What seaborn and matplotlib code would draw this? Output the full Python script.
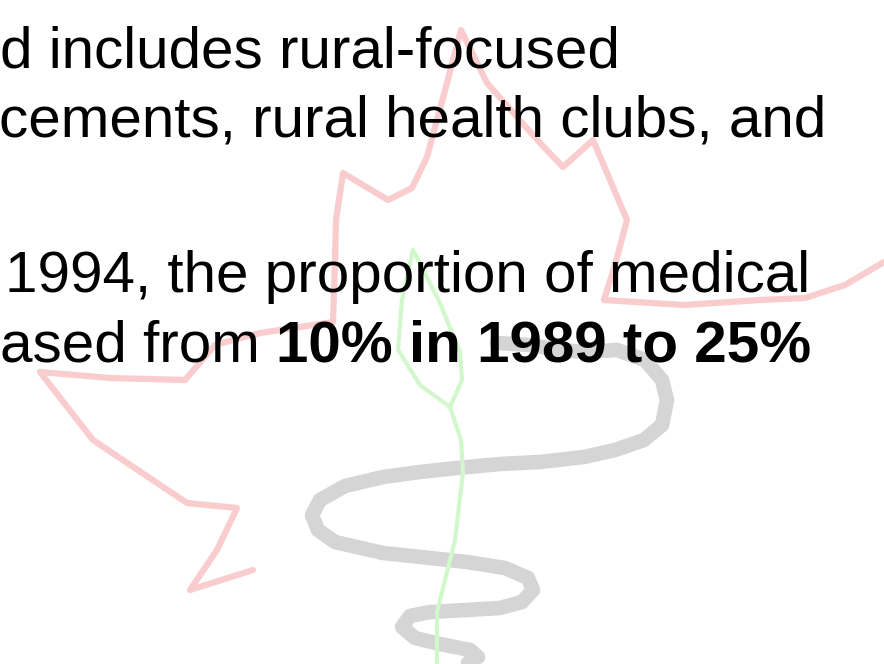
import matplotlib.pyplot as plt
import pandas as pd
import seaborn as sns

sns.set_theme(style="white")
plt.rcParams["font.family"] = ["Liberation Sans", "DejaVu Sans"]

# --- slide text (cropped slide, lines run off the left edge) ------------------
line_texts = [
    "d includes rural-focused",
    "cements, rural health clubs, and",
    "1994, the proportion of medical",
    "ased from ",
]
bold_text = "10% in 1989 to 25%"
line_x = [0, -1, 5, 0]
line_baseline = [67, 137, 292, 362]

# --- watermark logo, traced in pixel coordinates ------------------------------
leaf_x = [253, 190, 217, 237, 187, 93, 40, 110, 185, 215, 260, 333, 335, 336, 343,
          388, 412, 427, 447, 461, 487, 517, 540, 563, 593, 610, 627, 615, 604, 684,
          760, 805, 845, 884]
leaf_y = [570, 590, 550, 508, 503, 440, 372, 378, 380, 345, 333, 322, 260, 220, 173,
          200, 188, 157, 83, 30, 83, 117, 143, 167, 140, 180, 220, 265, 300, 305,
          300, 298, 285, 262]

bud_left_x = [413, 402, 398, 420, 450]
bud_left_y = [250, 300, 350, 385, 407]
bud_right_x = [413, 440, 460, 462, 450]
bud_right_y = [250, 303, 352, 380, 407]
stem_x = [450, 461, 463, 455, 437, 437]
stem_y = [407, 440, 472, 540, 612, 664]

snake_x = [497, 530, 560, 584, 617, 645, 662, 667, 662, 644, 615, 584, 540, 500, 457,
           420, 383, 345, 320, 312, 318, 335, 383, 430, 467, 505, 528, 533, 522, 500,
           467, 430, 410, 402, 415, 440, 470, 478, 468]
snake_y = [343, 345, 350, 352, 350, 360, 380, 400, 425, 440, 450, 457, 462, 464, 468,
           472, 477, 486, 500, 515, 530, 542, 553, 558, 562, 568, 578, 590, 602, 608,
           610, 612, 616, 627, 638, 644, 650, 657, 663]

fig = plt.figure(figsize=(8.84, 6.64), dpi=100)
ax = fig.add_axes([0, 0, 1, 1])

line_kw = dict(sort=False, estimator=None, ax=ax, solid_capstyle="round",
               solid_joinstyle="round")

leaf = pd.DataFrame({"x": leaf_x, "y": leaf_y})
sns.lineplot(data=leaf, x="x", y="y", color="#f9cdcd", linewidth=4.5, zorder=1, **line_kw)

snake = pd.DataFrame({"x": snake_x, "y": snake_y})
sns.lineplot(data=snake, x="x", y="y", color="#d5d5d5", linewidth=10.5, zorder=2, **line_kw)

for bx, by in [(bud_left_x, bud_left_y), (bud_right_x, bud_right_y), (stem_x, stem_y)]:
    part = pd.DataFrame({"x": bx, "y": by})
    sns.lineplot(data=part, x="x", y="y", color="#d2f7cc", linewidth=3, zorder=3, **line_kw)

ax.set_xlim(0, 884)
ax.set_ylim(664, 0)
ax.axis("off")

last = None
for txt, x, y in zip(line_texts, line_x, line_baseline):
    last = ax.text(x, y, txt, fontsize=42, color="black", ha="left", va="baseline", zorder=5)

ax.annotate(bold_text, xy=(1, 0), xycoords=last, ha="left", va="bottom",
            fontsize=42, fontweight="bold", color="black", zorder=5)

fig.savefig("out.png", dpi=100)
